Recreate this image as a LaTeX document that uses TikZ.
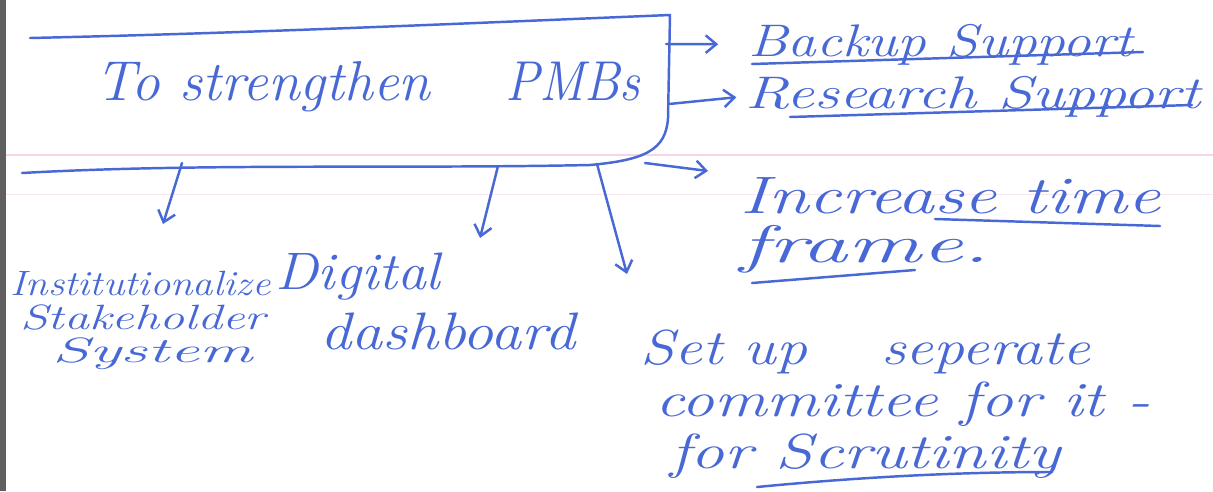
\documentclass[tikz,border=0pt]{standalone}
\usepackage{graphicx}
\usetikzlibrary{arrows.meta}
\definecolor{ink}{RGB}{72,104,214}
\definecolor{ruling}{RGB}{244,214,230}
\definecolor{margin}{RGB}{95,95,95}
% one unit of the drawing grid, and a helper that stretches a word sideways
\newlength\pxu \setlength\pxu{0.02cm}
\newcommand\hw[2]{\resizebox{#1\pxu}{\height}{#2}}
\begin{document}
\begin{tikzpicture}[x=0.02cm,y=-0.02cm,
  inkline/.style={draw=ink,line width=1.4pt,line cap=round,line join=round},
  arr/.style={inkline,-{Straight Barb[length=6pt,width=10pt,line width=1.4pt]}},
  hand/.style={text=ink,inner sep=0pt,align=left},
]
\useasboundingbox (0,0) rectangle (1213,491);
\fill[white] (0,0) rectangle (1213,491);
\fill[margin] (0,0) rectangle (6,491);
% ruled paper
\draw[ruling,line width=0.7pt] (6,155) -- (1213,155);
\draw[ruling!60,line width=0.5pt] (6,194) -- (1213,194);

% central box (open on the left)
\draw[inkline] (30,38) .. controls (250,33) and (450,24) .. (670,15)
  -- (668,118) .. controls (666,150) and (645,160) .. (590,165)
  .. controls (400,169) and (200,163) .. (22,173);

\node[hand,anchor=base west,font=\fontsize{32}{34}\selectfont\itshape] (main) at (95,100)
  {\hw{335}{To strengthen}\hspace{75\pxu}\hw{135}{PMBs}};

% outcomes on the right
\node[hand,anchor=base west,font=\fontsize{26}{28}\selectfont\itshape] (backup) at (748,56)
  {\hw{385}{Backup Support}};
\node[hand,anchor=base west,font=\fontsize{26}{28}\selectfont\itshape] (research) at (745,108)
  {\hw{455}{Research Support}};
\node[hand,anchor=north west,font=\fontsize{30}{28}\selectfont\itshape] (incr) at (740,177)
  {\hw{420}{Increase time}\\\hw{250}{frame.}};

% outcomes below
\node[hand,anchor=north west,font=\fontsize{20}{19}\selectfont\itshape] (inst) at (10,271)
  {\hw{260}{Institutionalize}\\\hspace*{10\pxu}\hw{245}{Stakeholder}\\\hspace*{42\pxu}\hw{200}{System}};
\node[hand,anchor=north west,font=\fontsize{30}{34}\selectfont\itshape] (digital) at (275,253)
  {\hw{165}{Digital}\\\hspace*{45\pxu}\hw{255}{dashboard}};
\node[hand,anchor=north west,font=\fontsize{28}{29.5}\selectfont\itshape] (setup) at (640,330)
  {\hw{450}{Set up\hspace{1.2em}seperate}\\\hspace*{15\pxu}\hw{495}{committee for it -}\\\hspace*{30\pxu}\hw{390}{for Scrutinity}};

% underlines
\draw[inkline] (752,64) -- (1143,52);
\draw[inkline] (790,117) -- (1192,105);
\draw[inkline] (935,219) -- (1160,226);
\draw[inkline] (752,283) -- (915,270);
\draw[inkline] (757,487) .. controls (850,478) and (950,472) .. (1052,472);

% arrow ends on the box
\coordinate (r1) at (666,44);
\coordinate (r2) at (669,104);
\coordinate (r3) at (645,163);
\coordinate (d1) at (182,163);
\coordinate (d2) at (498,166);
\coordinate (d3) at (597,164);
\coordinate (r3e) at (708,171);
\coordinate (d1e) at (163,224);
\coordinate (d2e) at (480,238);
\coordinate (d3e) at (627,274);

\draw[arr,shorten >=17pt] (r1) -- (backup.west);
\draw[arr,shorten >=5pt] (r2) -- (research.west);
\draw[arr] (r3) -- (r3e);
\draw[arr] (d1) -- (d1e);
\draw[arr] (d2) -- (d2e);
\draw[arr] (d3) -- (d3e);
\end{tikzpicture}
\end{document}
